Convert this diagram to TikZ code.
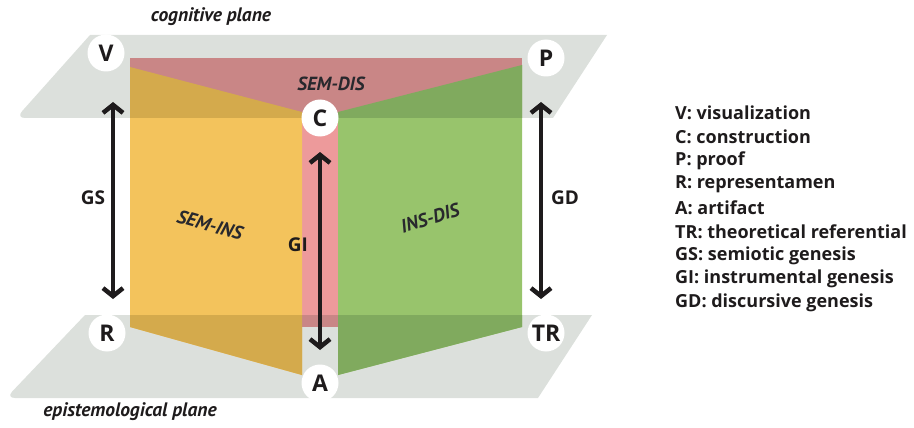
\documentclass[tikz,border=0pt]{standalone}
\usepackage{fontspec}
\setmainfont{Open Sans}
\newfontfamily\itfont{PT Sans}
\usetikzlibrary{arrows.meta}
\definecolor{plane}{RGB}{220,224,220}
\definecolor{redL}{RGB}{237,154,155}
\definecolor{redD}{RGB}{201,134,134}
\definecolor{yelL}{RGB}{243,195,92}
\definecolor{yelD}{RGB}{212,170,76}
\definecolor{grnL}{RGB}{152,196,108}
\definecolor{grnD}{RGB}{128,170,94}
\definecolor{ink}{RGB}{30,27,28}
\definecolor{lab}{RGB}{40,40,45}
\begin{document}
\begin{tikzpicture}[x=1pt,y=-1pt,
  vtx/.style={circle,fill=white,inner sep=0pt,minimum size=37pt,text=ink,font=\bfseries\fontsize{23}{23}\selectfont},
  gen/.style={line width=4.5pt,draw=ink,{Straight Barb[length=8pt,width=20pt]}-{Straight Barb[length=8pt,width=20pt]}},
  genlab/.style={text=ink,font=\bfseries\fontsize{19}{19}\selectfont},
  panlab/.style={text=lab,font=\itfont\itshape\bfseries\fontsize{19}{19}\selectfont},
  planelab/.style={text=ink,font=\itfont\itshape\bfseries\fontsize{19.5}{19.5}\selectfont},
  leg/.style={anchor=west,text=ink,inner sep=0pt,font=\bfseries\fontsize{18}{18}\selectfont}]
\useasboundingbox (0,0) rectangle (914,428);
\def\topplane{(90,35) -- (607,35) -- (553,118) [rounded corners=9pt] -- (16,118) [sharp corners] -- cycle}
\def\botplane{(85,315) -- (592,315) -- (538,398) [rounded corners=9pt] -- (6,398) [sharp corners] -- cycle}
\def\redpan{(130,58) rectangle (522,327)}
\def\yelpan{(130,67) -- (302,112) -- (302,375) -- (130,327) -- cycle}
\def\grnpan{(338,112) -- (522,65) -- (522,327) -- (338,375) -- cycle}
% planes
\fill[plane] \topplane;
\fill[plane] \botplane;
% panels
\fill[redL] \redpan;
\fill[yelL] \yelpan;
\fill[grnL] \grnpan;
\begin{scope}
  \clip \topplane;
  \fill[redD] \redpan;
  \fill[yelD] \yelpan;
  \fill[grnD] \grnpan;
\end{scope}
\begin{scope}
  \clip \botplane;
  \fill[redD] \redpan;
  \fill[yelD] \yelpan;
  \fill[grnD] \grnpan;
\end{scope}
% plane labels
\node[planelab] (cog) at (211,17) {cognitive plane};
\node[planelab] (epi) at (130,412) {epistemological plane};
% panel labels
\node[panlab] (semdis) at (331,84) {SEM-DIS};
\node[panlab,rotate=-16] (semins) at (210,225) {SEM-INS};
\node[panlab,rotate=17] (insdis) at (430,218) {INS-DIS};
% vertices
\node[vtx] (V) at (106,53) {V};
\node[vtx] (P) at (546,58) {P};
\node[vtx] (C) at (320,118) {C};
\node[vtx] (R) at (107,333) {R};
\node[vtx] (TR) at (546,333) {TR};
\node[vtx] (A) at (320,383) {A};
% geneses
\coordinate (gsT) at (113,102);
\coordinate (gsB) at (113,299);
\coordinate (giT) at (320,152);
\coordinate (giB) at (320,350);
\coordinate (gdT) at (541,102);
\coordinate (gdB) at (541,299);
\draw[gen] (gsT) -- (gsB);
\draw[gen] (giT) -- (giB);
\draw[gen] (gdT) -- (gdB);
\node[genlab] (GS) at (93,198) {GS};
\node[genlab] (GI) at (298,245) {GI};
\node[genlab] (GD) at (565,198) {GD};
% legend
\foreach \t [count=\i] in {V: visualization,C: construction,P: proof,R: representamen,A: artifact,TR: theoretical referential,GS: semiotic genesis,GI: instrumental genesis,GD: discursive genesis}
  \node[leg] (leg\i) at (675,{89.25+23.75*\i}) {\t};
\end{tikzpicture}
\end{document}
